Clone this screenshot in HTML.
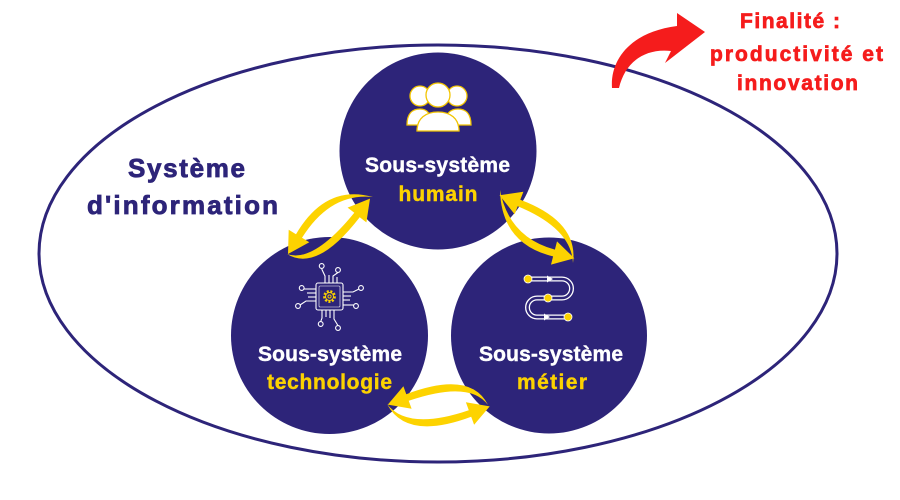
<!DOCTYPE html>
<html>
<head>
<meta charset="utf-8">
<style>
html,body{margin:0;padding:0;background:#fff;}
svg{display:block;}
text{font-family:"Liberation Sans","DejaVu Sans",sans-serif;font-weight:bold;}
</style>
</head>
<body>
<svg width="900" height="500" viewBox="0 0 900 500" xmlns="http://www.w3.org/2000/svg">
  <rect width="900" height="500" fill="#fff"/>
  <!-- big ellipse -->
  <ellipse cx="438" cy="253.5" rx="399" ry="208.5" fill="none" stroke="#2d2479" stroke-width="3"/>

  <!-- red arrow -->
  <path d="M612,88 C610,60 630,32 677,26 L677,13 L705,32 L665,63 L671,51 C645,48 625,62 619,88 Z" fill="#f51c1c"/>

  <!-- circles -->
  <circle cx="438" cy="151" r="98.5" fill="#2d2479"/>
  <circle cx="329.5" cy="335.5" r="98.5" fill="#2d2479"/>
  <circle cx="549" cy="335.5" r="98" fill="#2d2479"/>

  <!-- Système d'information -->
  <g fill="#2d2479" stroke="#2d2479" stroke-width="0.8" text-anchor="middle">
    <text x="186.5" y="177" font-size="26" textLength="117" lengthAdjust="spacing">Système</text>
    <text x="182.5" y="214" font-size="26" textLength="191" lengthAdjust="spacing">d'information</text>
  </g>

  <!-- Finalité -->
  <g fill="#f51c1c" stroke="#f51c1c" stroke-width="0.7" text-anchor="middle">
    <text x="790" y="28" font-size="21" textLength="100" lengthAdjust="spacing">Finalité :</text>
    <text x="796.5" y="61" font-size="21" textLength="173" lengthAdjust="spacing">productivité et</text>
    <text x="797.5" y="90" font-size="21" textLength="121" lengthAdjust="spacing">innovation</text>
  </g>

  <!-- circle labels -->
  <g text-anchor="middle" font-size="21" stroke-width="0.4">
    <text x="437.5" y="172" fill="#fff" stroke="#fff" textLength="145" lengthAdjust="spacing">Sous-système</text>
    <text x="438" y="201" fill="#fcd200" stroke="#fcd200" textLength="79" lengthAdjust="spacing">humain</text>

    <text x="330" y="361" fill="#fff" stroke="#fff" textLength="144" lengthAdjust="spacing">Sous-système</text>
    <text x="329.5" y="389" fill="#fcd200" stroke="#fcd200" textLength="125" lengthAdjust="spacing">technologie</text>

    <text x="551" y="361" fill="#fff" stroke="#fff" textLength="144" lengthAdjust="spacing">Sous-système</text>
    <text x="552" y="389" fill="#fcd200" stroke="#fcd200" textLength="70" lengthAdjust="spacing">métier</text>
  </g>

  <!-- human icon -->
  <g fill="#fff" stroke="#f2c400" stroke-width="1.3">
    <circle cx="420" cy="96" r="10"/>
    <circle cx="457" cy="96" r="10"/>
    <path d="M407,125 C407,113 413,109 420,109 C427,109 431,113 431,125 Z"/>
    <path d="M445,125 C445,113 451,109 458,109 C465,109 471,113 471,125 Z"/>
    <path d="M417,131 C417,118 426,112 438,112 C450,112 459,118 459,131 Z"/>
    <circle cx="438" cy="95" r="12"/>
  </g>

  <!-- chip icon -->
  <g fill="none" stroke="#fff" stroke-width="1.1">
    <rect x="316" y="283" width="27" height="27" rx="2"/>
    <rect x="319" y="286" width="21" height="21" rx="1" stroke-width="0.6"/>
    <path d="M325,283 V276 L321.7,269"/>
    <path d="M329,283 V275"/>
    <path d="M333,283 V276 L338,272.5"/>
    <path d="M337,283 V277"/>
    <circle cx="321.7" cy="266" r="2.4"/>
    <circle cx="338" cy="270" r="2.4"/>
    <path d="M322,310 V318 L320.7,321.6"/>
    <path d="M326,310 V317"/>
    <path d="M330,310 V318"/>
    <path d="M334,310 V319 L338,325.6"/>
    <circle cx="320.7" cy="324" r="2.4"/>
    <circle cx="338" cy="328" r="2.4"/>
    <path d="M316,289 H304"/>
    <path d="M316,293 H307"/>
    <path d="M316,297 H308"/>
    <path d="M316,301 H306 L300,305"/>
    <circle cx="301.7" cy="288" r="2.4"/>
    <circle cx="298" cy="306" r="2.4"/>
    <path d="M343,292 H353 L359,289"/>
    <path d="M343,296 H351"/>
    <path d="M343,300 H350"/>
    <path d="M343,305 H353.6"/>
    <circle cx="361" cy="288" r="2.4"/>
    <circle cx="356" cy="306" r="2.4"/>
  </g>
  <g fill="none" stroke="#fcd200">
    <circle cx="329.5" cy="296.5" r="5.2" stroke-width="2.4" stroke-dasharray="2 1.6"/>
    <circle cx="329.5" cy="296.5" r="4" stroke-width="1"/>
    <circle cx="329.5" cy="296.5" r="1.6" stroke-width="0.9"/>
  </g>

  <!-- métier path icon -->
  <path d="M528,279 H562 A9.5,9.5 0 0 1 562,298 H537 A9.5,9.5 0 0 0 537,317 H568" fill="none" stroke="#fff" stroke-width="5"/>
  <path d="M528,279 H562 A9.5,9.5 0 0 1 562,298 H537 A9.5,9.5 0 0 0 537,317 H568" fill="none" stroke="#2d2479" stroke-width="2.4"/>
  <g fill="#fff">
    <path d="M547,275.5 L553,279 L547,282.5 Z"/>
    <path d="M544,313.5 L550,317 L544,320.5 Z"/>
  </g>
  <g fill="#fcd200" stroke="#fff" stroke-width="0.8">
    <circle cx="528" cy="279" r="4"/>
    <circle cx="548" cy="298" r="4"/>
    <circle cx="568" cy="317" r="4"/>
  </g>

  <!-- yellow arrows -->
  <g fill="#fdd300">
    <path d="M373,197 Q325.6,183.6 296,234.2 L288.7,229.8 L288,254 L309.3,242.2 L302,237.8 Q330.4,192.4 373,197 Z"/>
    <path d="M287,254 Q316.9,272.7 359.7,217.2 L366.4,222.4 L370,198.6 L347.6,207.6 L354.3,212.8 Q313.2,263.4 287,254 Z"/>
    <path d="M573,263 Q578.7,221.6 520.3,199.7 L523.4,191.8 L499.5,195.2 L514.6,214.2 L517.7,206.3 Q571.3,228.4 573,263 Z"/>
    <path d="M500,190 Q501.2,243.7 553.1,256.4 L551,264.6 L574.4,258.3 L557,241.4 L554.9,249.6 Q508.8,237.1 500,190 Z"/>
    <path d="M488,405 Q470.5,370 406.3,394.2 L403.4,386.2 L387.8,404.6 L411.6,408.8 L408.7,400.8 Q469.5,380 488,405 Z"/>
    <path d="M387,404 Q406.4,441 471.2,416.8 L474.1,424.8 L489.7,406.4 L465.9,402.2 L468.8,410.2 Q407.6,431 387,404 Z"/>
  </g>
</svg>
</body>
</html>
